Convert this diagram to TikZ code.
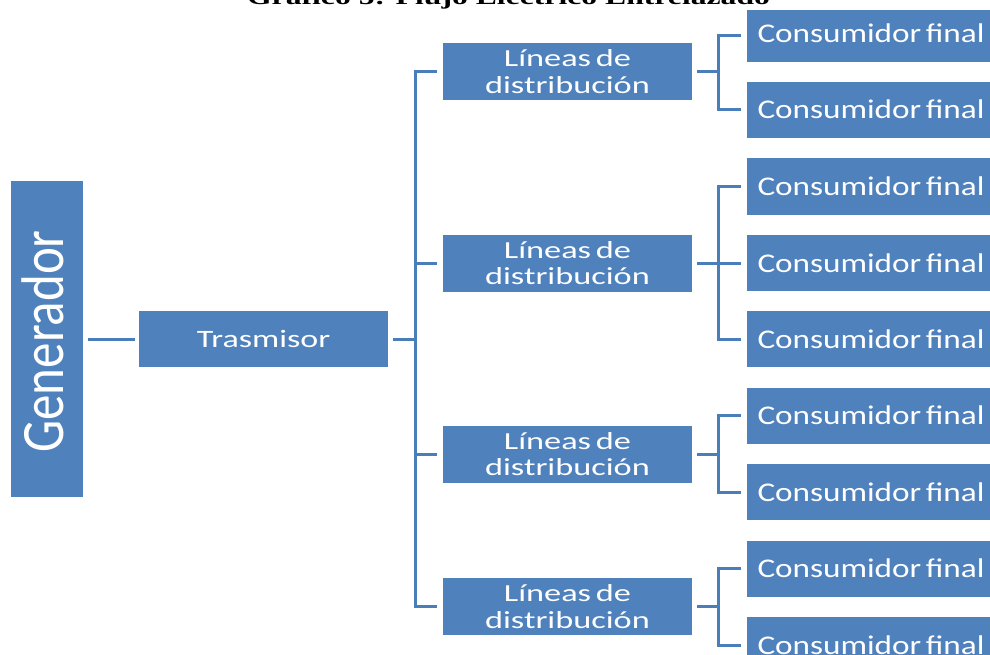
\documentclass[tikz,border=0pt]{standalone}
\usepackage{fontspec}
\setmainfont{Carlito}
\newfontfamily\titlefont[FakeStretch=1.44]{Liberation Serif}
\newfontfamily\consfont[FakeStretch=1.23]{Carlito}
\newfontfamily\linfont[FakeStretch=1.40]{Carlito}
\newfontfamily\trafont[FakeStretch=1.36]{Carlito}
\definecolor{boxblue}{HTML}{4F81BD}
\definecolor{lineblue}{HTML}{4A7EBB}
\newcommand{\cf}{Consumidor\hspace{0.17em}final}
\newcommand{\ld}{Líneas\hspace{0.2em}de\\distribución}
\begin{document}
\begin{tikzpicture}[x=1pt,y=-1pt,
  box/.style={fill=boxblue, draw=none, text=white, inner sep=0pt, align=center},
  cons/.style={box, minimum width=248pt, minimum height=56pt, font=\consfont\fontsize{27}{28}\selectfont, text height=18pt, text depth=0pt},
  lin/.style={box, minimum width=249pt, minimum height=57pt, font=\linfont\fontsize{24.5}{26.5}\selectfont},
  conn/.style={draw=lineblue, line width=3pt},
  gap/.style={shorten <=5pt, shorten >=6pt}]
\useasboundingbox (0,0) rectangle (990,655);
% generator
\node[box, minimum width=72pt, minimum height=316pt] (g) at (47,339) {};
\node[rotate=90, anchor=base, text=white, inner sep=0pt, font=\fontsize{51}{54}\selectfont] (gtxt) at (63,341.5) {\scalebox{1}[1.18]{Generador}};
\node[box, minimum width=249pt, minimum height=56pt, font=\trafont\fontsize{25}{26}\selectfont, text height=16pt, text depth=0pt] (t) at (263.5,339) {Trasmisor};
% lines of distribution
\node[lin] (l1) at (567.5,71.5) {\ld};
\node[lin] (l2) at (567.5,263) {\ld};
\node[lin] (l3) at (567.5,454) {\ld};
\node[lin] (l4) at (567.5,606.5) {\ld};
% consumers
\node[cons, minimum height=52pt] (c1) at (871,36) {\raisebox{2pt}{\cf}};
\node[cons] (c2) at (871,110) {\cf};
\node[cons] (c3) at (871,186.5) {\cf};
\node[cons] (c4) at (871,263) {\cf};
\node[cons] (c5) at (871,339) {\cf};
\node[cons] (c6) at (871,415.5) {\cf};
\node[cons] (c7) at (871,492) {\cf};
\node[cons] (c8) at (871,568.5) {\cf};
\node[cons] (c9) at (871,645) {\cf};
% title
\node[anchor=base, inner sep=0pt, font=\titlefont\bfseries\fontsize{22}{24}\selectfont] (title) at (508.5,5) {Gráfico 5: Flujo Eléctrico Entrelazado};
% connectors
\coordinate (bus) at (415,339);
\draw[conn, shorten <=5pt, shorten >=4pt] (g.east) -- (t.west);
\foreach \i in {1,...,4}
  \draw[conn, gap] (t.east) -- (bus) |- (l\i.west);
\coordinate (s1) at (718,71.5);
\coordinate (s2) at (718,263);
\coordinate (s3) at (718,454);
\coordinate (s4) at (718,606.5);
\foreach \j in {1,2} \draw[conn, gap] (l1.east) -- (s1) |- (c\j.west);
\foreach \j in {3,4,5} \draw[conn, gap] (l2.east) -- (s2) |- (c\j.west);
\foreach \j in {6,7} \draw[conn, gap] (l3.east) -- (s3) |- (c\j.west);
\foreach \j in {8,9} \draw[conn, gap] (l4.east) -- (s4) |- (c\j.west);
\end{tikzpicture}
\end{document}
